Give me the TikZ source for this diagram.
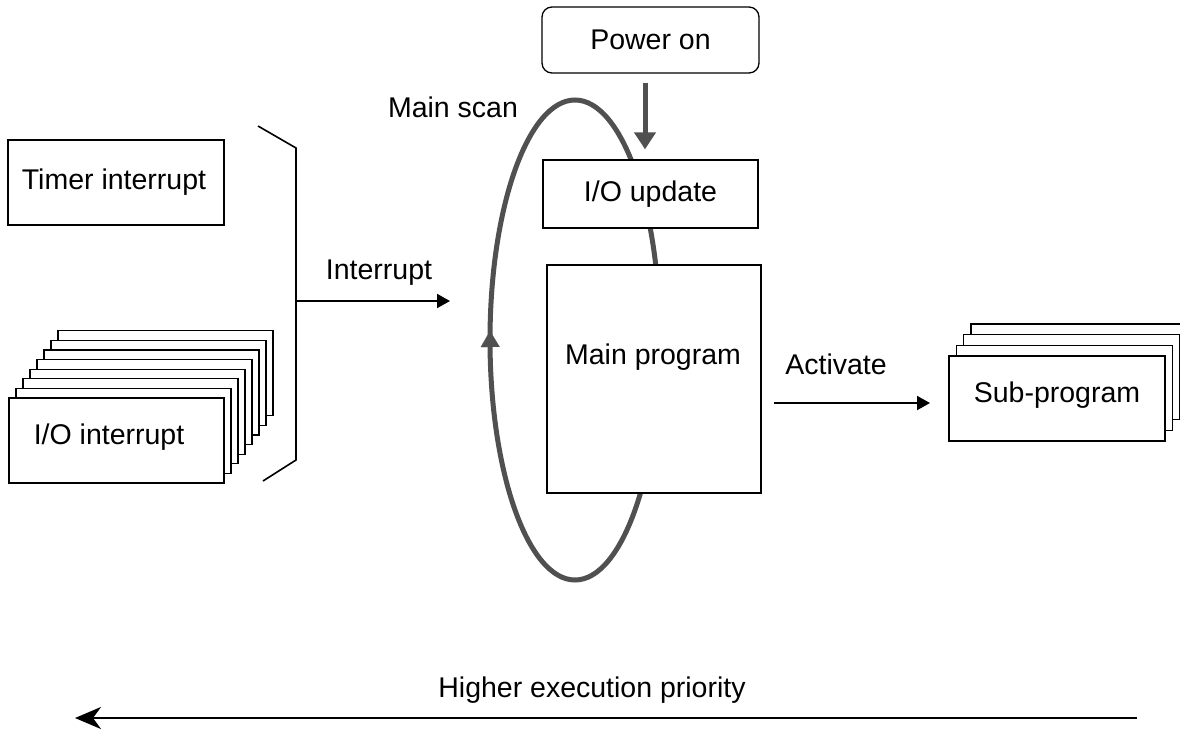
\documentclass[tikz,border=0pt]{standalone}
\usepackage{fontspec}
\setmainfont{Liberation Sans}
\usetikzlibrary{arrows.meta}
\definecolor{scangray}{HTML}{505050}
\tikzset{
  box/.style={draw=black, line width=1.3pt, fill=white, minimum width=215pt, minimum height=85pt, inner sep=0pt},
  txt/.style={font=\fontsize{28.5}{34}\selectfont, inner sep=0pt},
  thinarrow/.style={line width=2pt, -{Triangle[length=13pt,width=14pt]}},
  grayline/.style={draw=scangray, line width=5pt},
}
\begin{document}
\begin{tikzpicture}[x=1pt,y=-1pt]
\clip (0,0) rectangle (1180,731);
\fill[white] (0,0) rectangle (1180,731);

% main scan loop (behind boxes)
\draw[grayline] (575,340) ellipse [x radius=85pt, y radius=240pt];
\coordinate (scanA) at (490.3,356);
\coordinate (scanB) at (490,331);
\draw[draw=scangray, line width=0.1pt, -{Triangle[length=16pt,width=19pt,fill=scangray]}] (scanA) -- (scanB);

% timer interrupt
\node[box, minimum width=216pt] (timer) at (116,182.5) {};
\node[txt] (timerlbl) at (114,182) {Timer interrupt};

% I/O interrupt stack
\foreach \i in {7,6,...,1}{
  \node[box] (iob\i) at (116.5+7*\i, 440.5-9.6*\i) {};
}
\node[box] (ioint) at (116.5,440.5) {};
\node[txt] (iointlbl) at (109,437) {I/O interrupt};

% bracket
\coordinate (brA) at (258,126);
\coordinate (brB) at (296,148);
\coordinate (brC) at (296,460);
\coordinate (brD) at (263,481);
\draw[line width=1.6pt] (brA) -- (brB) -- (brC) -- (brD);
\coordinate (intS) at (296,301);
\coordinate (intE) at (450,301);
\draw[thinarrow] (intS) -- (intE);
\node[txt] (intlbl) at (379,273) {Interrupt};

% main scan label
\node[txt] (scanlbl) at (453,107) {Main scan};

% power on
\node[box, rounded corners=10pt, minimum width=217pt, minimum height=66pt] (power) at (650.5,40) {};
\node[txt] (powerlbl) at (650.5,40) {Power on};

% I/O update
\node[box, minimum height=68pt] (ioupd) at (650.5,194) {};
\node[txt] (ioupdlbl) at (650.5,194) {I/O update};

\draw[draw=scangray, line width=5pt, shorten <=9pt, shorten >=10pt, -{Triangle[length=17pt,width=21pt,fill=scangray]}] ([xshift=-5.5pt]power.south) -- ([xshift=-5.5pt]ioupd.north);

% main program
\node[box, minimum width=214pt, minimum height=228pt] (mainp) at (654,379) {};
\node[txt] (mainlbl) at (653,357) {Main program};

% sub-program stack
\foreach \i in {3,2,1}{
  \node[box, minimum width=216pt] (subb\i) at (1057+7.3*\i, 398.5-10.7*\i) {};
}
\node[box, minimum width=216pt] (subp) at (1057,398.5) {};
\node[txt] (sublbl) at (1057,395) {Sub-program};

% activate
\coordinate (actS) at (774,403);
\coordinate (actE) at (930,403);
\draw[thinarrow] (actS) -- (actE);
\node[txt] (actlbl) at (836,364) {Activate};

% priority
\coordinate (priS) at (1137,718);
\coordinate (priE) at (75,718);
\draw[line width=2pt, -{Stealth[length=26pt,width=22pt,inset=8pt]}] (priS) -- (priE);
\node[txt] (prilbl) at (592,690) {Higher execution priority};
\end{tikzpicture}
\end{document}
